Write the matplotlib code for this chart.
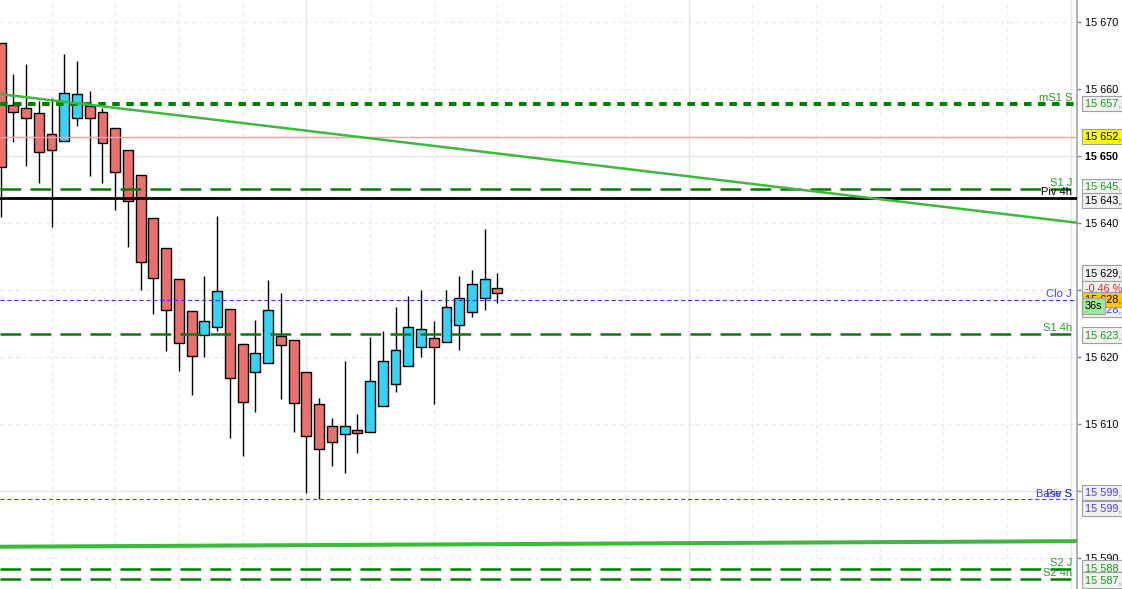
import numpy as np
import matplotlib.pyplot as plt
from matplotlib.patches import Rectangle

plt.rcParams['font.family'] = ['Liberation Sans', 'DejaVu Sans']
plt.rcParams['lines.scale_dashes'] = False

# candle data (index -1 is the partly visible one on the left edge)
opens = [15666.8, 15657.5, 15657.1, 15656.3, 15653.3, 15652.2, 15655.7, 15657.4, 15656.5, 15654.2,
         15650.8, 15647.1, 15640.7, 15636.2, 15631.6, 15626.8, 15623.3, 15624.4, 15627.1, 15621.9,
         15617.7, 15619.0, 15623.1, 15622.5, 15617.7, 15612.9, 15609.6, 15608.4, 15609.0, 15608.7,
         15612.6, 15616.0, 15618.6, 15621.4, 15622.8, 15622.2, 15624.7, 15626.6, 15628.7, 15630.2]
highs = [15666.8, 15662.2, 15663.7, 15658.2, 15658.6, 15665.2, 15664.1, 15659.7, 15657.1, 15654.2,
         15650.8, 15647.1, 15640.7, 15636.2, 15631.6, 15626.8, 15632.1, 15641.0, 15627.1, 15621.9,
         15625.5, 15631.5, 15629.5, 15622.5, 15617.7, 15613.8, 15610.8, 15619.3, 15611.4, 15622.9,
         15623.9, 15627.4, 15629.0, 15629.9, 15625.4, 15629.9, 15632.0, 15632.9, 15639.0, 15632.5]
lows = [15640.9, 15652.1, 15648.5, 15646.0, 15639.4, 15652.2, 15654.5, 15647.0, 15646.0, 15641.9,
        15636.4, 15629.9, 15626.4, 15620.9, 15617.8, 15614.3, 15619.9, 15623.9, 15607.8, 15605.2,
        15611.8, 15619.0, 15613.7, 15608.8, 15599.7, 15598.8, 15603.7, 15602.7, 15605.7, 15608.7,
        15612.6, 15614.8, 15618.6, 15619.9, 15612.9, 15622.2, 15621.0, 15625.9, 15626.9, 15628.0]
closes = [15648.3, 15656.5, 15655.7, 15650.5, 15650.8, 15659.3, 15659.2, 15655.6, 15651.9, 15647.5,
          15643.3, 15634.1, 15631.7, 15626.9, 15622.0, 15620.1, 15625.3, 15629.8, 15616.8, 15613.3,
          15620.5, 15626.9, 15621.7, 15613.1, 15608.1, 15606.2, 15607.2, 15609.6, 15608.6, 15616.3,
          15619.3, 15621.0, 15624.4, 15624.2, 15621.4, 15627.4, 15628.7, 15630.8, 15631.6, 15629.5]

# horizontal levels
level_names = ['mS1 S', 'S1 J', 'Piv 4h', 'Clo J', 'S1 4h', 'Base S', 'S2 J', 'S2 4h']
level_values = [15657.76, 15645.08, 15643.74, 15628.46, 15623.43, 15598.72, 15588.31, 15586.87]
bid_price = 15652.75

# trend lines: two points each (candle index, price)
upper_trend = [(0, 15658.96), (83, 15640.11)]
lower_trend = [(0, 15591.65), (83, 15592.47)]

y_ticks = [15590, 15600, 15610, 15620, 15630, 15640, 15650, 15660, 15670]
y_tick_labels = ['15 590', '15 600', '15 610', '15 620', '15 630', '15 640', '15 650', '15 660', '15 670']

fig = plt.figure(figsize=(11.22, 5.89), dpi=100)
ax = fig.add_axes([0, 0, 1077 / 1122, 1])
ax.set_xlim(-1.044, 83.49)
ax.set_ylim(15585.33, 15673.24)

# grid
for v in y_ticks:
    if v % 50 == 0:
        ax.axhline(v, color='#e6e6e6', lw=1, zorder=0.5)
    else:
        ax.axhline(v, color='#ececec', lw=1, ls=(0, (3, 2.5)), zorder=0.5)
for i in range(3, 84, 5):
    if (i - 23) % 30 == 0:
        ax.axvline(i, color='#e6e6e6', lw=1, zorder=0.5)
    else:
        ax.axvline(i, color='#ececec', lw=1, ls=(0, (3, 2.5)), zorder=0.5)

# candles
xs = np.arange(-1, len(opens) - 1)
for x, o, h, l, c in zip(xs, opens, highs, lows, closes):
    ax.vlines(x, l, h, color='black', lw=1, zorder=3)
    col = '#38d2f5' if c > o else '#e9716d'
    ax.add_patch(Rectangle((x - 0.39, min(o, c)), 0.78, max(abs(c - o), 0.3),
                           fc=col, ec='black', lw=1, zorder=4))

# levels
green = '#008000'
level_styles = {
    'mS1 S': dict(color=green, lw=2.9, ls=(0, (5.4, 4.7))),
    'S1 J': dict(color=green, lw=1.8, ls=(0, (14.9, 6.7))),
    'Piv 4h': dict(color='black', lw=2.0, ls='-'),
    'Clo J': dict(color='#3535ff', lw=0.8, ls=(0, (3, 2))),
    'S1 4h': dict(color=green, lw=1.8, ls=(0, (14.9, 6.7))),
    'Base S': dict(color='#4848e0', lw=0.8, ls=(0, (3, 2))),
    'S2 J': dict(color=green, lw=1.8, ls=(0, (14.9, 6.7))),
    'S2 4h': dict(color=green, lw=1.8, ls=(0, (14.9, 6.7))),
}
label_colors = {'mS1 S': '#2a9a2a', 'S1 J': '#2a9a2a', 'Piv 4h': 'black', 'Clo J': '#4040ff',
                'S1 4h': '#2a9a2a', 'Base S': '#3a3aff', 'S2 J': '#2a9a2a', 'S2 4h': '#2a9a2a'}

ax.axhline(bid_price, color='#f2a2a2', lw=1, zorder=5)
for name, v in zip(level_names, level_values):
    ax.axhline(v, zorder=5, **level_styles[name])
    ax.annotate(name, xy=(1, v), xycoords=('axes fraction', 'data'), xytext=(-3.6, 0.5),
                textcoords='offset points', ha='right', va='bottom', fontsize=8,
                color=label_colors[name], zorder=6)
ax.annotate('Piv S', xy=(1, level_values[5]), xycoords=('axes fraction', 'data'), xytext=(-3.6, 0.5),
            textcoords='offset points', ha='right', va='bottom', fontsize=8,
            color='#3a3aff', zorder=6)

ax.axline(upper_trend[0], upper_trend[1], color='#3dba3d', lw=1.8, zorder=5)
ax.axline(lower_trend[0], lower_trend[1], color='#3dba3d', lw=2.9, zorder=5)

# right axis
for s in ['top', 'left', 'bottom']:
    ax.spines[s].set_visible(False)
ax.spines['right'].set_color('#9aa5b1')
ax.spines['right'].set_linewidth(1.2)
ax.set_xticks([])
ax.yaxis.tick_right()
ax.set_yticks(y_ticks)
ax.set_yticklabels(y_tick_labels)
ax.tick_params(axis='y', length=3, width=1, color='#7f8c99', pad=3, labelsize=7.8)
for t in ax.get_yticklabels():
    if t.get_text() == '15 650':
        t.set_fontweight('bold')

# value boxes on the price axis: (text, price, shift in px, text colour, fill)
last = closes[-1]
boxes = [
    ('15 657,6', level_values[0], 0, '#1a9a1a', '#f2f2f2'),
    ('15 652,8', bid_price, 1, 'black', '#ffff00'),
    ('15 645,1', level_values[1], 2, '#1a9a1a', '#f2f2f2'),
    ('15 643,7', level_values[2], -3, 'black', '#f2f2f2'),
    ('15 629,6', last, 20, 'black', '#f2f2f2'),
    ('-0.46 %', last, 4, '#e02020', '#f2f2f2'),
    ('15 628,6', level_values[3], -9, '#4040ff', '#f2f2f2'),
    ('15 628,6', level_values[3], 0.5, 'black', '#ffc800'),
    ('36s', level_values[3], -6, 'black', '#9ce89c'),
    ('15 623,6', level_values[4], -1.3, '#1a9a1a', '#f2f2f2'),
    ('15 599,1', level_values[5], 6.5, '#4040ff', '#f2f2f2'),
    ('15 599,1', level_values[5], -9, '#4040ff', '#f2f2f2'),
    ('15 588,3', level_values[6], 1, '#1a9a1a', '#f2f2f2'),
    ('15 587,2', level_values[7], -1.5, '#1a9a1a', '#f2f2f2'),
]
for txt, v, dy, tc, fc in boxes:
    ax.annotate(txt, xy=(1, v), xycoords=('axes fraction', 'data'), xytext=(5.6, dy * 0.72),
                textcoords='offset points', ha='left', va='center', fontsize=7.8, color=tc,
                annotation_clip=False, zorder=7,
                bbox=dict(boxstyle='square,pad=0.25', fc=fc, ec='#a0a0a0', lw=0.8))

fig.savefig('out.png', dpi=100)
